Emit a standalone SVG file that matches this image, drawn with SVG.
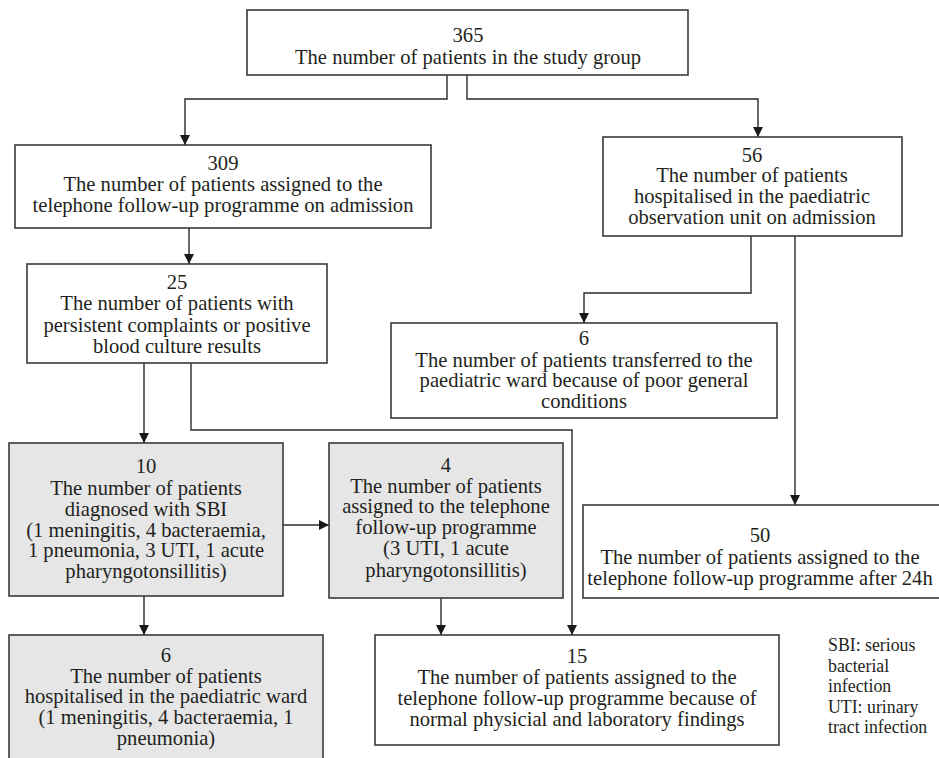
<svg xmlns="http://www.w3.org/2000/svg" width="939" height="758" viewBox="0 0 939 758">
<defs>
<style>
.box{fill:#ffffff;stroke:#3a3a3a;stroke-width:1.6}
.grey{fill:#e6e6e7;stroke:#3a3a3a;stroke-width:1.6}
.t{font-family:"Liberation Serif","Times New Roman",serif;font-size:20.6px;fill:#231f20;text-anchor:middle}
.leg{font-family:"Liberation Serif","Times New Roman",serif;font-size:17.8px;fill:#231f20}
.c{fill:none;stroke:#2a2a2a;stroke-width:1.4}
</style>
<marker id="ah" viewBox="0 0 10 10" refX="10" refY="5" markerWidth="10" markerHeight="10" markerUnits="userSpaceOnUse" orient="auto">
<path d="M0,0 L10,5 L0,10 z" fill="#1a1a1a"/>
</marker>
</defs>
<rect width="939" height="758" fill="#ffffff"/>
<g id="connectors">
<path class="c" d="M447,75 V99 H185 V145" marker-end="url(#ah)"/>
<path class="c" d="M467,75 V99 H758 V137" marker-end="url(#ah)"/>
<path class="c" d="M189,228 V264" marker-end="url(#ah)"/>
<path class="c" d="M751,236 V293 H584 V323" marker-end="url(#ah)"/>
<path class="c" d="M795,236 V505" marker-end="url(#ah)"/>
<path class="c" d="M144,363 V443" marker-end="url(#ah)"/>
<path class="c" d="M191,363 V430 H572 V635" marker-end="url(#ah)"/>
<path class="c" d="M283,525 H329" marker-end="url(#ah)"/>
<path class="c" d="M144,596 V635" marker-end="url(#ah)"/>
<path class="c" d="M441,598 V635" marker-end="url(#ah)"/>
</g>
<g id="n365">
<rect class="box" x="247" y="10" width="441" height="65"/>
<text class="t" x="468" y="42">365</text>
<text class="t" x="468" y="64">The number of patients in the study group</text>
</g>
<g id="n309">
<rect class="box" x="15" y="145" width="416" height="83"/>
<text class="t" x="223" y="170">309</text>
<text class="t" x="223" y="191">The number of patients assigned to the</text>
<text class="t" x="223" y="212">telephone follow-up programme on admission</text>
</g>
<g id="n56">
<rect class="box" x="603" y="137" width="299" height="99"/>
<text class="t" x="752" y="162">56</text>
<text class="t" x="752" y="182">The number of patients</text>
<text class="t" x="752" y="203">hospitalised in the paediatric</text>
<text class="t" x="752" y="224">observation unit on admission</text>
</g>
<g id="n25">
<rect class="box" x="27" y="264" width="300" height="99"/>
<text class="t" x="177" y="289">25</text>
<text class="t" x="177" y="310">The number of patients with</text>
<text class="t" x="177" y="332">persistent complaints or positive</text>
<text class="t" x="177" y="353">blood culture results</text>
</g>
<g id="n6transfer">
<rect class="box" x="391" y="323" width="386" height="95"/>
<text class="t" x="584" y="345">6</text>
<text class="t" x="584" y="367">The number of patients transferred to the</text>
<text class="t" x="584" y="387">paediatric ward because of poor general</text>
<text class="t" x="584" y="408">conditions</text>
</g>
<g id="n10">
<rect class="grey" x="9" y="443" width="274" height="153"/>
<text class="t" x="146" y="473">10</text>
<text class="t" x="146" y="495">The number of patients</text>
<text class="t" x="146" y="516">diagnosed with SBI</text>
<text class="t" x="146" y="537">(1 meningitis, 4 bacteraemia,</text>
<text class="t" x="146" y="557">1 pneumonia, 3 UTI, 1 acute</text>
<text class="t" x="146" y="578">pharyngotonsillitis)</text>
</g>
<g id="n4">
<rect class="grey" x="329" y="443" width="234" height="155"/>
<text class="t" x="446" y="472">4</text>
<text class="t" x="446" y="493">The number of patients</text>
<text class="t" x="446" y="513">assigned to the telephone</text>
<text class="t" x="446" y="534">follow-up programme</text>
<text class="t" x="446" y="555">(3 UTI, 1 acute</text>
<text class="t" x="446" y="577">pharyngotonsillitis)</text>
</g>
<g id="n50">
<rect class="box" x="583" y="505" width="362" height="93"/>
<text class="t" x="760" y="542">50</text>
<text class="t" x="760" y="564">The number of patients assigned to the</text>
<text class="t" x="760" y="585">telephone follow-up programme after 24h</text>
</g>
<g id="n6ward">
<rect class="grey" x="9" y="635" width="314" height="128"/>
<text class="t" x="166" y="662">6</text>
<text class="t" x="166" y="683">The number of patients</text>
<text class="t" x="166" y="703">hospitalised in the paediatric ward</text>
<text class="t" x="166" y="724">(1 meningitis, 4 bacteraemia, 1</text>
<text class="t" x="166" y="745">pneumonia)</text>
</g>
<g id="n15">
<rect class="box" x="375" y="635" width="404" height="110"/>
<text class="t" x="577" y="663">15</text>
<text class="t" x="577" y="684">The number of patients assigned to the</text>
<text class="t" x="577" y="705">telephone follow-up programme because of</text>
<text class="t" x="577" y="726">normal physicial and laboratory findings</text>
</g>
<g id="legend">
<text class="leg" x="828" y="651">SBI: serious</text>
<text class="leg" x="828" y="671.5">bacterial</text>
<text class="leg" x="828" y="692">infection</text>
<text class="leg" x="828" y="712.5">UTI: urinary</text>
<text class="leg" x="828" y="733">tract infection</text>
</g>
</svg>
